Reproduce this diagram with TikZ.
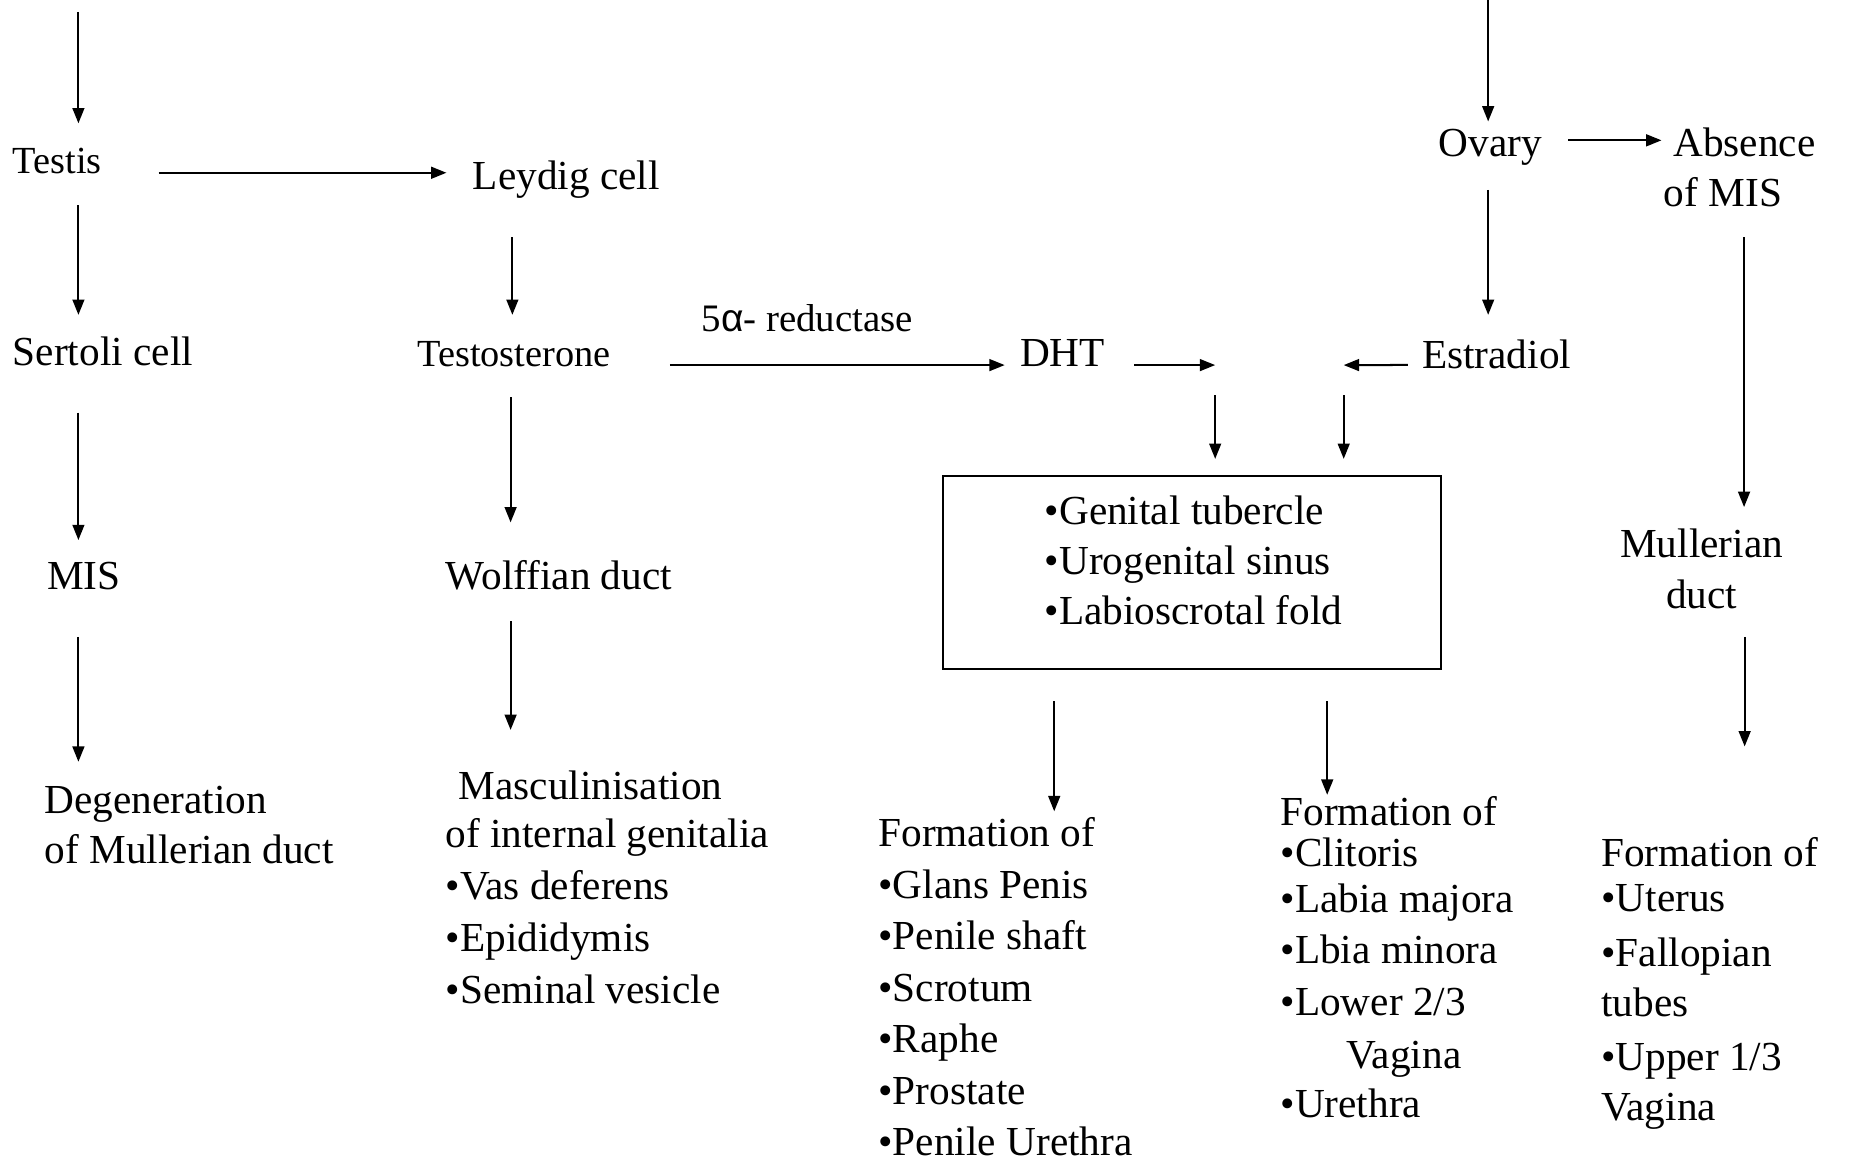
\documentclass[tikz,border=0pt]{standalone}
\usepackage{fontspec}
\setmainfont{Liberation Serif}
\newfontfamily\sansf{Liberation Sans}
\usetikzlibrary{arrows.meta}
\tikzset{
  lbl/.style={inner sep=0pt, outer sep=0pt, anchor=base west, align=left,
    font=\fontsize{35}{43.7}\selectfont},
  lblsmall/.style={lbl, font=\fontsize{32.5}{40}\selectfont},
  arr/.style={line width=1.7pt, draw=black, -{Triangle[length=13pt,width=10pt]}},
  boxst/.style={draw=black, line width=1.7pt, inner sep=0pt, minimum width=422pt, minimum height=163pt}
}
\begin{document}
\begin{tikzpicture}[x=1pt,y=-1pt]
\useasboundingbox (0,0) rectangle (1568,990);
% nodes (multi-line nodes are placed by the baseline of their last line)
\node[lblsmall] (testis) at (11,147) {Testis};
\node[lbl] (leydig) at (401,161) {Leydig cell};
\node[lbl] (sertoli) at (11,309.6) {Sertoli cell};
\node[lblsmall] (testo) at (354,311) {Testosterone};
\node[lbl] (mis) at (40,500) {MIS};
\node[lbl] (wolff) at (378,500) {Wolffian duct};
\node[lbl, font=\fontsize{35}{42.5}\selectfont] (degen) at (38,732.5) {Degeneration\\of Mullerian duct};
\node[lbl, font=\fontsize{35}{44}\selectfont] (masc) at (378,851) {\hspace*{11pt}Masculinisation\\[-3pt]of internal genitalia\\•Vas deferens\\•Epididymis\\•Seminal vesicle};
\node[lbl, font=\fontsize{33}{40}\selectfont] (reduct) at (595,281.5) {5{\sansf α}- reductase};
\node[lbl] (dht) at (865,311) {DHT};
\node[lbl] (estr) at (1206,312.5) {Estradiol};
\node[lbl] (ovary) at (1220,133) {Ovary};
\node[lbl, font=\fontsize{35}{42.5}\selectfont] (absence) at (1411,175.5) {\hspace*{8pt}Absence\\of MIS};
\node[lbl, anchor=base, align=center, font=\fontsize{35}{43}\selectfont] (muller) at (1443,516) {Mullerian\\duct};
\node[boxst] (box) at (1011,485.5) {};
\node[lbl, font=\fontsize{35}{42.5}\selectfont] (boxtxt) at (886,530) {•Genital tubercle\\•Urogenital sinus\\•Labioscrotal fold};
\node[lbl] (formM) at (745,980.2) {Formation of\\•Glans Penis\\•Penile shaft\\•Scrotum\\•Raphe\\•Prostate\\•Penile Urethra};
\node[lbl] (formF) at (1086,948) {Formation of\\[-8.7pt]•Clitoris\\[-5.2pt]•Labia majora\\•Lbia minora\\•Lower 2/3\\[1.3pt]\hspace*{56pt}Vagina\\[-1.7pt]•Urethra};
\node[lbl] (formU) at (1358,950) {Formation of\\[-5.7pt]•Uterus\\[3.3pt]•Fallopian\\[-1.7pt]tubes\\[1.8pt]•Upper 1/3\\[-1.2pt]Vagina};
% free ends
\coordinate (topL) at (66.5,10);
\coordinate (topR) at (1262,0);
\coordinate (jm) at (1030.5,309.6);
\coordinate (jf) at (1139.5,309.6);
% connectors
\draw[arr] (topL) -- ([shift={(55.5,-42.4)}]testis.base west);
\draw[arr] ([shift={(123.5,-0.5)}]testis.base west) -- ([shift={(-22.4,-14.5)}]leydig.base west);
\draw[arr] ([shift={(55.5,27)}]testis.base west) -- ([shift={(55.5,-42.6)}]sertoli.base west);
\draw[arr] ([shift={(55.5,40.4)}]sertoli.base west) -- ([shift={(26.5,-42)}]mis.base west);
\draw[arr] ([shift={(26.5,40)}]mis.base west) -- ([shift={(28.5,-86.5)}]degen.base west);
\draw[arr] ([shift={(33.5,40)}]leydig.base west) -- ([shift={(80.5,-44)}]testo.base west);
\draw[arr] ([shift={(79,26)}]testo.base west) -- ([shift={(55,-57)}]wolff.base west);
\draw[arr] ([shift={(55,27)}]wolff.base west) -- ([shift={(55,-232)}]masc.base west);
\draw[arr] ([shift={(214,-1.4)}]testo.base west) -- ([shift={(-13,-1.4)}]dht.base west);
\draw[arr] ([shift={(97,-1.4)}]dht.base west) -- (jm);
\draw[arr] ([shift={(-12,-3)}]estr.base west) -- (jf);
\draw[arr] ([shift={(0,25.4)}]jm) -- ([shift={(19.5,-14)}]box.north);
\draw[arr] ([shift={(0,25.4)}]jf) -- ([shift={(128.5,-14)}]box.north);
\draw[arr] ([shift={(-117,27)}]box.south) -- ([shift={(149,-292.2)}]formM.base west);
\draw[arr] ([shift={(114.5,27)}]box.south) -- ([shift={(39.5,-274)}]formF.base west);
\draw[arr] (topR) -- ([shift={(42,-30)}]ovary.base west);
\draw[arr] ([shift={(110,-14)}]ovary.base west) -- ([shift={(-2,-56.5)}]absence.base west);
\draw[arr] ([shift={(42,28)}]ovary.base west) -- ([shift={(56,-45.5)}]estr.base west);
\draw[arr] ([shift={(68,25.5)}]absence.base west) -- ([shift={(36,-86)}]muller.base);
\draw[arr] ([shift={(36.5,24)}]muller.base) -- ([shift={(121.5,-317)}]formU.base west);
\end{tikzpicture}
\end{document}
